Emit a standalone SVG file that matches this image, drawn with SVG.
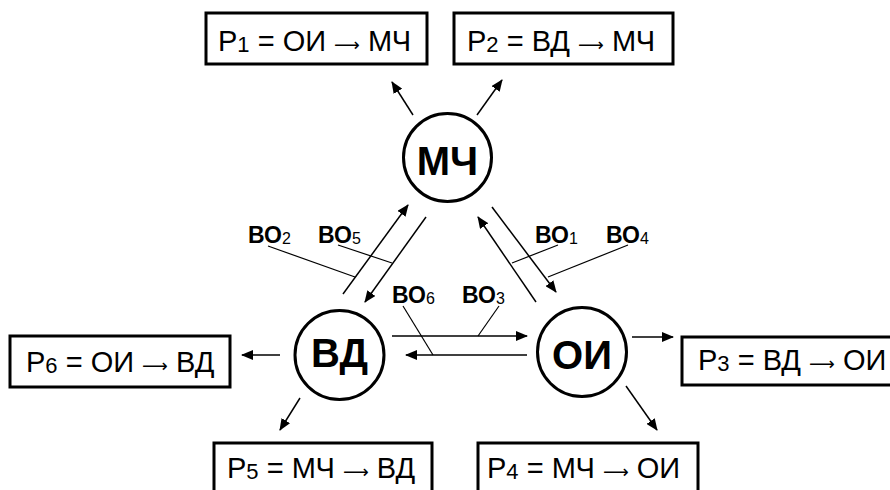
<svg xmlns="http://www.w3.org/2000/svg" width="890" height="490" viewBox="0 0 890 490">
  <defs>
    <marker id="arrow" viewBox="0 0 12 10" refX="11" refY="5" markerWidth="12" markerHeight="10" markerUnits="userSpaceOnUse" orient="auto">
      <path d="M0,0 L12,5 L0,10 Z" fill="#000"/>
    </marker>
    <style>
      .node circle { fill: #fff; stroke: #000; stroke-width: 3; }
      .node text { font-family: "Liberation Sans", Arial, sans-serif; font-weight: bold; font-size: 40px; text-anchor: middle; fill: #000; }
      .box rect { fill: #fff; stroke: #000; stroke-width: 3; }
      .box text { font-family: "Liberation Sans", Arial, sans-serif; font-size: 29px; fill: #000; }
      .sub { font-size: 22px; }
      .to { font-family: "DejaVu Sans", sans-serif; font-size: 18px; }
      .lbl { font-family: "Liberation Sans", Arial, sans-serif; font-weight: bold; font-size: 23px; fill: #000; }
      .lbl .s { font-size: 16px; font-weight: normal; }
      .arr { stroke: #000; stroke-width: 1.5; fill: none; marker-end: url(#arrow); }
      .lead { stroke: #000; stroke-width: 1.2; fill: none; }
    </style>
  </defs>

  <rect width="890" height="490" fill="#fff"/>

  <!-- connectors -->
  <g id="connectors">
    <!-- node to result boxes -->
    <line class="arr" x1="413" y1="115" x2="392" y2="82"/>
    <line class="arr" x1="477" y1="115" x2="502" y2="80"/>
    <line class="arr" x1="280" y1="355" x2="242" y2="355"/>
    <line class="arr" x1="300" y1="398" x2="280" y2="430"/>
    <line class="arr" x1="632" y1="337" x2="673" y2="337"/>
    <line class="arr" x1="626" y1="386" x2="657" y2="430"/>
    <!-- links between nodes -->
    <line class="arr" x1="343" y1="294" x2="408" y2="205"/>
    <line class="arr" x1="426" y1="217" x2="365" y2="302"/>
    <line class="arr" x1="536" y1="302" x2="478" y2="217"/>
    <line class="arr" x1="492" y1="207" x2="556" y2="292"/>
    <line class="arr" x1="392" y1="336" x2="527" y2="336"/>
    <line class="arr" x1="527" y1="355" x2="406" y2="355"/>
    <!-- label leaders -->
    <line class="lead" x1="268" y1="246" x2="355" y2="277"/>
    <line class="lead" x1="338" y1="245" x2="392" y2="263"/>
    <line class="lead" x1="558" y1="245" x2="512" y2="263"/>
    <line class="lead" x1="628" y1="245" x2="548" y2="277"/>
    <line class="lead" x1="403" y1="306" x2="433" y2="355"/>
    <line class="lead" x1="499" y1="306" x2="478" y2="336"/>
  </g>

  <!-- link labels -->
  <g id="labels">
    <text class="lbl" x="248" y="243">ВО<tspan class="s" dy="1">2</tspan></text>
    <text class="lbl" x="318" y="243">ВО<tspan class="s" dy="1">5</tspan></text>
    <text class="lbl" x="535" y="243">ВО<tspan class="s" dy="1">1</tspan></text>
    <text class="lbl" x="606" y="243">ВО<tspan class="s" dy="1">4</tspan></text>
    <text class="lbl" x="392" y="303">ВО<tspan class="s" dy="1">6</tspan></text>
    <text class="lbl" x="462" y="303">ВО<tspan class="s" dy="1">3</tspan></text>
  </g>

  <!-- nodes -->
  <g id="node-mch" class="node">
    <circle cx="447.5" cy="157.5" r="44"/>
    <text x="447.5" y="175">МЧ</text>
  </g>
  <g id="node-vd" class="node">
    <circle cx="339.5" cy="355" r="44.5"/>
    <text x="339.5" y="367">ВД</text>
  </g>
  <g id="node-oi" class="node">
    <circle cx="582" cy="352" r="44.5"/>
    <text x="582" y="369">ОИ</text>
  </g>

  <!-- result boxes -->
  <g id="box-p1" class="box">
    <rect x="206" y="13" width="221" height="51"/>
    <text x="218" y="51">Р<tspan class="sub" dy="1">1</tspan><tspan dy="-1"> = ОИ </tspan><tspan class="to">⟶</tspan> МЧ</text>
  </g>
  <g id="box-p2" class="box">
    <rect x="454" y="13" width="219" height="51"/>
    <text x="467" y="51">Р<tspan class="sub" dy="1">2</tspan><tspan dy="-1"> = ВД </tspan><tspan class="to">⟶</tspan> МЧ</text>
  </g>
  <g id="box-p6" class="box">
    <rect x="10" y="336" width="220" height="51"/>
    <text x="26" y="372">Р<tspan class="sub" dy="1">6</tspan><tspan dy="-1"> = ОИ </tspan><tspan class="to">⟶</tspan> ВД</text>
  </g>
  <g id="box-p3" class="box">
    <rect x="682" y="337" width="230" height="48"/>
    <text x="698" y="370">Р<tspan class="sub" dy="1">3</tspan><tspan dy="-1"> = ВД </tspan><tspan class="to">⟶</tspan> ОИ</text>
  </g>
  <g id="box-p5" class="box">
    <rect x="214" y="443" width="218" height="60"/>
    <text x="227" y="478">Р<tspan class="sub" dy="1">5</tspan><tspan dy="-1"> = МЧ </tspan><tspan class="to">⟶</tspan> ВД</text>
  </g>
  <g id="box-p4" class="box">
    <rect x="478" y="443" width="220" height="60"/>
    <text x="487" y="478">Р<tspan class="sub" dy="1">4</tspan><tspan dy="-1"> = МЧ </tspan><tspan class="to">⟶</tspan> ОИ</text>
  </g>
</svg>
